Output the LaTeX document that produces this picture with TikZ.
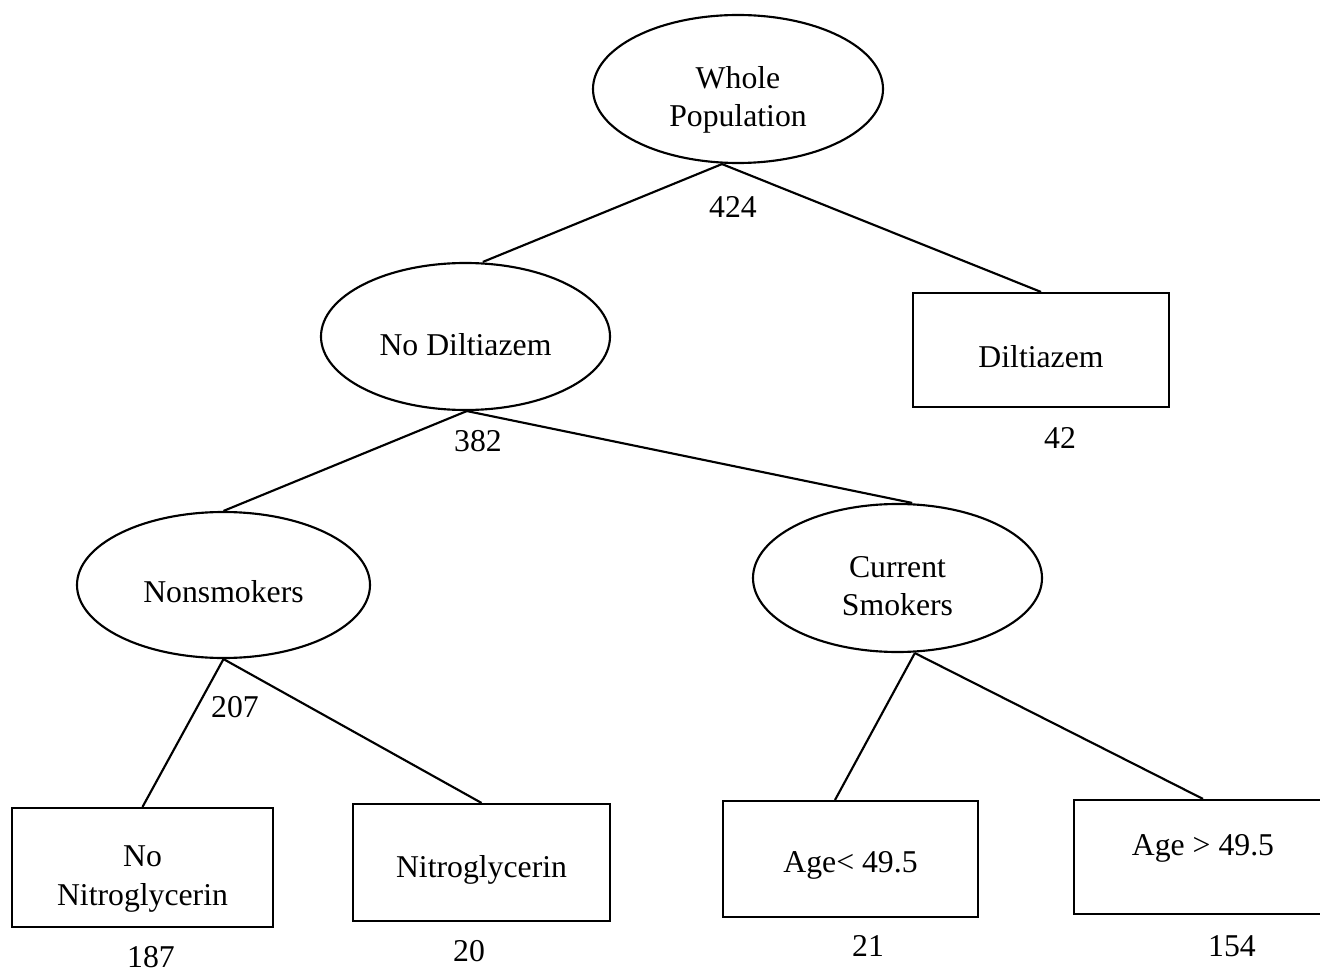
\documentclass[tikz,border=0pt]{standalone}
\usepackage{fontspec}
\setmainfont{Liberation Serif}
\usetikzlibrary{shapes.geometric}
\newcommand{\lowertext}[2]{\raisebox{-#1}[\height][\depth]{#2}}
\newcommand{\twolines}[2]{\begin{tabular}{@{}c@{}}#1\\#2\end{tabular}}
\begin{document}
\begin{tikzpicture}[x=0.75pt,y=-0.75pt,
  every node/.style={font=\fontsize{23.8}{29}\selectfont, inner sep=0pt},
  oval/.style={draw, ellipse, line width=1.6pt},
  leaf/.style={draw, rectangle, line width=1.6pt},
  count/.style={},
  branch/.style={line width=1.6pt}]
\useasboundingbox (0,0) rectangle (1320,973);
\fill[white] (0,0) rectangle (1320,973);

% ellipses
\node[oval, minimum width=217.5pt, minimum height=111pt] (wp) at (738,89)
  {\lowertext{8pt}{\twolines{Whole}{Population}}};
\node[oval, minimum width=216.75pt, minimum height=110.25pt] (nd) at (465.5,336.5)
  {\lowertext{6.4pt}{No Diltiazem}};
\node[oval, minimum width=219.75pt, minimum height=109.5pt] (ns) at (223.5,585)
  {\lowertext{5.25pt}{Nonsmokers}};
\node[oval, minimum width=216.75pt, minimum height=111pt] (cs) at (897.5,578)
  {\lowertext{8pt}{\twolines{Current}{Smokers}}};

% leaves
\node[leaf, minimum width=192pt, minimum height=85.5pt] (dz) at (1041,350)
  {\lowertext{5.25pt}{Diltiazem}};
\node[leaf, minimum width=195.75pt, minimum height=89.25pt] (nn) at (142.5,867.5)
  {\lowertext{8pt}{\twolines{No}{Nitroglycerin}}};
\node[leaf, minimum width=192.75pt, minimum height=87.75pt] (ng) at (481.5,862.5)
  {\lowertext{5.6pt}{Nitroglycerin}};
\node[leaf, minimum width=191.25pt, minimum height=87pt] (al) at (850.5,859)
  {\lowertext{4.8pt}{Age\textless{} 49.5}};
\node[leaf, minimum width=193.5pt, minimum height=85.5pt] (ag) at (1203,857)
  {\lowertext{-6.75pt}{Age \textgreater{} 49.5}};

% counts
\node[count] (c424) at (733,207) {424};
\node[count] (c382) at (478,441) {382};
\node[count] (c42)  at (1060,438) {42};
\node[count] (c207) at (235,707) {207};
\node[count] (c187) at (151,957) {187};
\node[count] (c20)  at (469,951) {20};
\node[count] (c21)  at (868,946) {21};
\node[count] (c154) at (1232,946) {154};

% branches
\draw[branch] ([xshift=-12pt]wp.south) -- ([xshift=13pt]nd.north);
\draw[branch] ([xshift=-12pt]wp.south) -- (dz.north);
\draw[branch] ([xshift=1pt]nd.south) -- (ns.north);
\draw[branch] ([xshift=1pt]nd.south) -- ([xshift=11pt]cs.north);
\draw[branch] (ns.south) -- (nn.north);
\draw[branch] (ns.south) -- (ng.north);
\draw[branch] ([xshift=13pt]cs.south) -- ([xshift=-11.6pt]al.north);
\draw[branch] ([xshift=13pt]cs.south) -- (ag.north);
\end{tikzpicture}
\end{document}
